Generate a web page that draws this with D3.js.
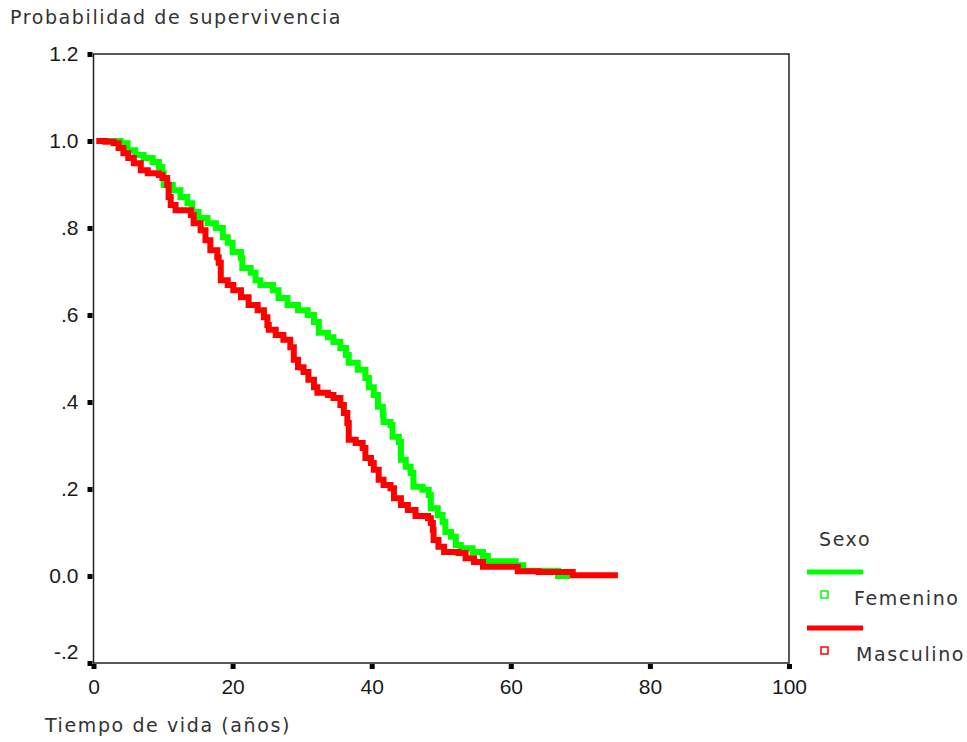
<!DOCTYPE html>
<html>
<head>
<meta charset="utf-8">
<script src="https://cdn.jsdelivr.net/npm/d3@7"></script>
<style>
  body { margin: 0; background: #fff; }
  svg { display: block; }
  .lbl { font-family: "DejaVu Sans", Verdana, sans-serif; font-size: 19px; letter-spacing: 1.6px; fill: #333; }
  .axis text { font-family: "Liberation Sans", Arial, sans-serif; font-size: 21px; fill: #1a1a1a; }
  .axis path { display: none; }
  .axis line { stroke: #000; stroke-width: 5; }
</style>
</head>
<body>
<svg id="chart" width="967" height="742"></svg>
<script>
// Kaplan-Meier curves (time in years, survival probability)
const femTime = [0.7, 3.9, 4.9, 6.0, 7.2, 8.5, 9.4, 9.9, 10.1, 11.4, 12.5, 13.5, 14.2, 15.1, 16.4, 17.6, 18.6, 19.3, 20.0, 21.2, 21.4, 22.6, 23.3, 24.0, 25.8, 26.6, 27.9, 29.4, 30.8, 31.7, 32.4, 33.7, 34.5, 35.5, 36.3, 36.7, 38.0, 39.1, 39.6, 40.3, 40.9, 41.6, 41.7, 42.7, 43.0, 43.9, 44.2, 44.9, 45.6, 46.0, 47.3, 48.2, 48.5, 49.5, 50.2, 50.6, 51.4, 52.1, 52.8, 54.5, 56.0, 56.7, 60.7, 61.8, 66.8, 68.5];
const femSurv = [1.0, 0.995, 0.979, 0.968, 0.961, 0.952, 0.940, 0.926, 0.899, 0.887, 0.871, 0.857, 0.837, 0.823, 0.811, 0.800, 0.779, 0.766, 0.745, 0.731, 0.708, 0.697, 0.680, 0.669, 0.657, 0.639, 0.623, 0.611, 0.600, 0.584, 0.559, 0.549, 0.538, 0.524, 0.508, 0.490, 0.474, 0.455, 0.434, 0.416, 0.389, 0.370, 0.354, 0.347, 0.320, 0.308, 0.267, 0.251, 0.237, 0.205, 0.198, 0.186, 0.156, 0.140, 0.124, 0.101, 0.090, 0.071, 0.064, 0.055, 0.046, 0.034, 0.025, 0.012, 0.0, 0.0];

const mascTime = [0.4, 1.7, 2.9, 3.6, 4.3, 5.0, 5.8, 6.8, 7.8, 9.4, 9.9, 10.6, 10.8, 11.1, 11.8, 14.0, 14.4, 15.4, 16.1, 16.8, 17.8, 18.0, 18.3, 19.3, 20.1, 21.2, 22.3, 23.6, 24.5, 25.0, 25.2, 26.2, 27.3, 28.3, 28.8, 29.4, 30.2, 30.9, 31.7, 32.2, 33.7, 34.5, 35.5, 36.0, 36.5, 36.7, 37.7, 38.7, 39.1, 39.9, 40.3, 41.0, 41.7, 42.7, 43.2, 44.2, 45.2, 46.3, 48.1, 48.5, 48.8, 48.9, 49.6, 50.4, 52.5, 53.5, 54.7, 56.0, 61.0, 64.0, 68.9, 75.4];
const mascSurv = [1.0, 0.998, 0.995, 0.984, 0.972, 0.961, 0.949, 0.933, 0.926, 0.922, 0.915, 0.899, 0.871, 0.853, 0.841, 0.830, 0.811, 0.795, 0.772, 0.749, 0.733, 0.720, 0.680, 0.669, 0.657, 0.641, 0.623, 0.611, 0.595, 0.577, 0.566, 0.554, 0.543, 0.526, 0.497, 0.480, 0.469, 0.451, 0.434, 0.421, 0.416, 0.409, 0.393, 0.375, 0.352, 0.313, 0.306, 0.294, 0.271, 0.260, 0.244, 0.221, 0.209, 0.202, 0.179, 0.163, 0.152, 0.138, 0.133, 0.122, 0.106, 0.083, 0.067, 0.055, 0.053, 0.041, 0.032, 0.021, 0.011, 0.009, 0.002, 0.002];

const seriesNames = ['Femenino', 'Masculino'];
const seriesColors = ['#00ff00', '#ff0000'];

const yTicks = [1.2, 1.0, 0.8, 0.6, 0.4, 0.2, 0.0, -0.2];
const yTickLabels = ['1.2', '1.0', '.8', '.6', '.4', '.2', '0.0', '-.2'];
const xTicks = [0, 20, 40, 60, 80, 100];

const svg = d3.select('#chart');

const x = d3.scaleLinear().domain([0, 100]).range([93.5, 789]);
const y = d3.scaleLinear().domain([-0.2, 1.2]).range([663, 54]);

// plot frame
svg.append('rect')
  .attr('x', x(0)).attr('y', y(1.2))
  .attr('width', x(100) - x(0)).attr('height', y(-0.2) - y(1.2))
  .attr('fill', 'none').attr('stroke', '#222').attr('stroke-width', 1.5);

// y axis (square tick marks like the original)
const yAxis = svg.append('g').attr('class', 'axis')
  .attr('transform', `translate(${x(0) - 1},0)`)
  .call(d3.axisLeft(y).tickValues(yTicks).tickSize(5).tickPadding(9)
    .tickFormat((d, i) => yTickLabels[i]));
yAxis.selectAll('.tick').filter(d => d === -0.2).select('text').attr('dy', '-0.2em');

// x axis
svg.append('g').attr('class', 'axis')
  .attr('transform', `translate(0,${y(-0.2) + 1})`)
  .call(d3.axisBottom(x).tickValues(xTicks).tickSize(5).tickPadding(10));

// survival step curves
const line = d3.line()
  .x(d => x(d[0]))
  .y(d => y(d[1]))
  .curve(d3.curveStepAfter);

const femData = femTime.map((t, i) => [t, femSurv[i]]);
const mascData = mascTime.map((t, i) => [t, mascSurv[i]]);

[femData, mascData].forEach((data, i) => {
  svg.append('path')
    .datum(data)
    .attr('d', line)
    .attr('fill', 'none')
    .attr('stroke', seriesColors[i])
    .attr('stroke-width', 6)
    .attr('stroke-linejoin', 'miter');
});

// titles
svg.append('text').attr('class', 'lbl').attr('x', 10).attr('y', 24).text('Probabilidad de supervivencia');
svg.append('text').attr('class', 'lbl').attr('x', 45).attr('y', 732).text('Tiempo de vida (años)');

// legend
const legend = svg.append('g').attr('transform', 'translate(807,0)');
legend.append('text').attr('class', 'lbl').attr('x', 12).attr('y', 546).text('Sexo');
seriesNames.forEach((name, i) => {
  const top = 572 + i * 56;
  legend.append('line')
    .attr('x1', 0).attr('x2', 56).attr('y1', top).attr('y2', top)
    .attr('stroke', seriesColors[i]).attr('stroke-width', 5);
  legend.append('rect')
    .attr('x', 14).attr('y', top + 19).attr('width', 7).attr('height', 7)
    .attr('fill', 'none').attr('stroke', seriesColors[i]).attr('stroke-width', 1.5);
  legend.append('text').attr('class', 'lbl')
    .attr('x', 47 + i * 2).attr('y', top + 33).text(name);
});
</script>
</body>
</html>
